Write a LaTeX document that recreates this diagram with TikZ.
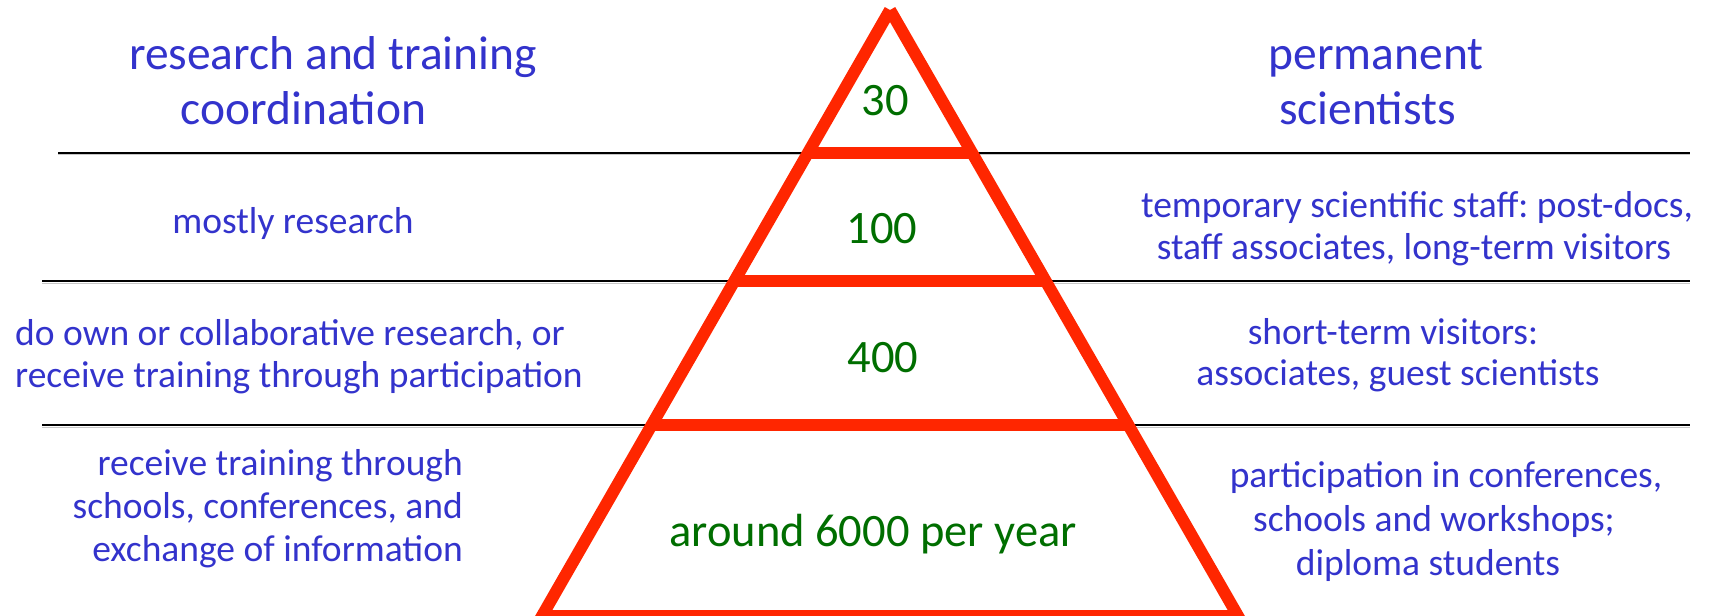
\documentclass[tikz,border=0pt]{standalone}
\usepackage{fontspec}
\setmainfont{Carlito}
\usetikzlibrary{calc}
\definecolor{txtblue}{RGB}{51,51,204}
\definecolor{numgreen}{RGB}{0,110,0}
\definecolor{pyrred}{RGB}{255,38,0}
\frenchspacing
\begin{document}
\begin{tikzpicture}[x=1pt,y=-1pt,
  bluetxt/.style={text=txtblue, inner sep=0pt, font=\fontsize{37.5}{43}\selectfont},
  headtxt/.style={text=txtblue, inner sep=0pt, font=\fontsize{47.5}{55}\selectfont},
  numtxt/.style={text=numgreen, inner sep=0pt, font=\fontsize{46.5}{55}\selectfont},
  sepline/.style={draw=black, line width=2pt},
  sepshadow/.style={draw=black!22, line width=1pt},
  pyrline/.style={draw=pyrred, line width=12pt, line cap=butt, line join=miter}]
\useasboundingbox (0,0) rectangle (1717,616);
% separator lines
\coordinate (s1l) at (58,152.5);  \coordinate (s1r) at (1690,152.5);
\coordinate (s2l) at (42,281);    \coordinate (s2r) at (1690,281);
\coordinate (s3l) at (42,425);    \coordinate (s3r) at (1690,425);
\draw[sepshadow] ($(s1l)+(0,2)$) -- ($(s1r)+(0,2)$);
\draw[sepshadow] ($(s2l)+(0,2)$) -- ($(s2r)+(0,2)$);
\draw[sepshadow] ($(s3l)+(0,2)$) -- ($(s3r)+(0,2)$);
\draw[sepline] (s1l) -- (s1r);
\draw[sepline] (s2l) -- (s2r);
\draw[sepline] (s3l) -- (s3r);
% pyramid
\coordinate (apex) at (890,10);
\coordinate (bl) at (542,616);
\coordinate (br) at (1238,616);
\draw[pyrline] (apex) -- (bl) -- (br) -- (apex);
\draw[pyrline] ($(apex)!0.2355!(bl)$) -- ($(apex)!0.2355!(br)$);
\draw[pyrline] ($(apex)!0.4472!(bl)$) -- ($(apex)!0.4472!(br)$);
\draw[pyrline] ($(apex)!0.6848!(bl)$) -- ($(apex)!0.6848!(br)$);
% numbers
\node[numtxt, anchor=base] (n30) at (885,115) {30};
\node[numtxt, anchor=base] (n100) at (882,243) {100};
\node[numtxt, anchor=base] (n400) at (883,372) {400};
\node[numtxt, anchor=base] (n6000) at (873,546) {around 6000 per year};
% headers
\node[headtxt, anchor=base] (hl1) at (333,69) {research and training};
\node[headtxt, anchor=base] (hl2) at (303.5,124) {coordination};
\node[headtxt, anchor=base] (hr1) at (1376,69) {permanent};
\node[headtxt, anchor=base] (hr2) at (1367.5,124) {scientists};
% left texts
\node[bluetxt, anchor=base] (l1) at (293,233) {mostly research};
\node[bluetxt, anchor=base west] (l2a) at (15,345) {do own or collaborative research, or};
\node[bluetxt, anchor=base west] (l2b) at (15,387) {receive training through participation};
\node[bluetxt, anchor=base east] (l3a) at (463,475) {receive training through};
\node[bluetxt, anchor=base east] (l3b) at (463,518) {schools, conferences, and};
\node[bluetxt, anchor=base east] (l3c) at (463,561) {exchange of information};
% right texts
\node[bluetxt, anchor=base] (r1a) at (1417,217) {temporary scientific staff: post-docs,};
\node[bluetxt, anchor=base] (r1b) at (1414,259) {staff associates, long-term visitors};
\node[bluetxt, anchor=base] (r2a) at (1393,344) {short-term visitors:};
\node[bluetxt, anchor=base] (r2b) at (1398,385) {associates, guest scientists};
\node[bluetxt, anchor=base] (r3a) at (1446,487) {participation in conferences,};
\node[bluetxt, anchor=base] (r3b) at (1434,531) {schools and workshops;};
\node[bluetxt, anchor=base] (r3c) at (1428,575) {diploma students};
\end{tikzpicture}
\end{document}
